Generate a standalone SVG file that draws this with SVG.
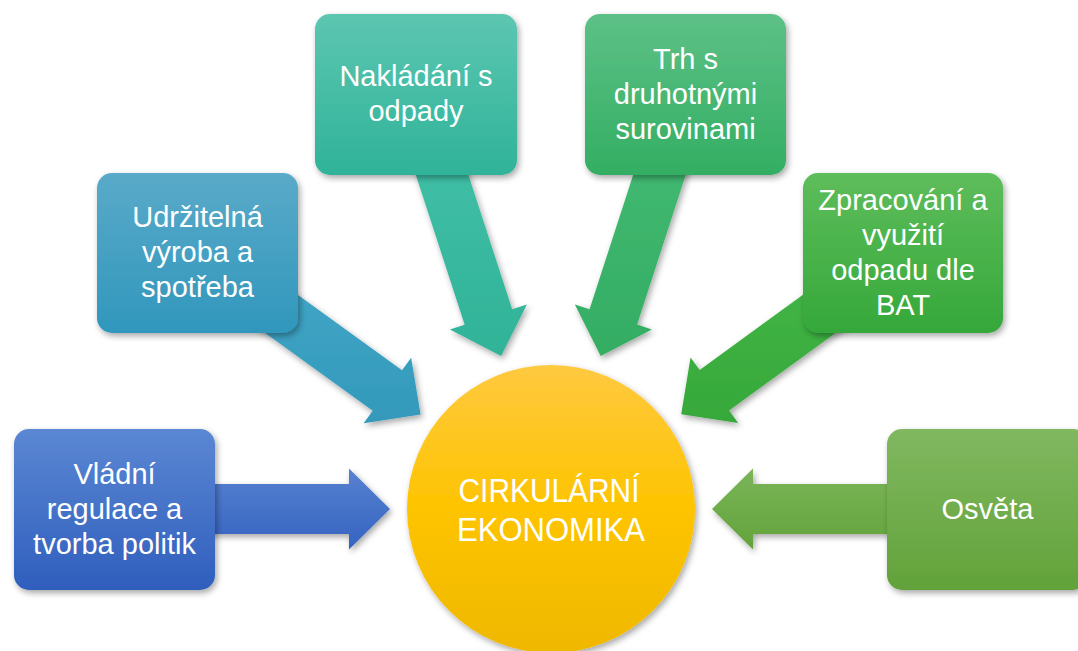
<svg xmlns="http://www.w3.org/2000/svg" width="1078" height="651" viewBox="0 0 1078 651">
<defs>
<filter id="sh" x="-20%" y="-20%" width="140%" height="140%">
<feDropShadow dx="2" dy="3" stdDeviation="3" flood-color="#000" flood-opacity="0.35"/>
</filter>
<linearGradient id="g1" x1="0" y1="0" x2="0" y2="1"><stop offset="0" stop-color="#5b87d3"/><stop offset="1" stop-color="#2f5ebd"/></linearGradient>
<linearGradient id="g2" x1="0" y1="0" x2="0" y2="1"><stop offset="0" stop-color="#5aaac9"/><stop offset="1" stop-color="#3097bc"/></linearGradient>
<linearGradient id="g3" x1="0" y1="0" x2="0" y2="1"><stop offset="0" stop-color="#5dc6b1"/><stop offset="1" stop-color="#2fb399"/></linearGradient>
<linearGradient id="g4" x1="0" y1="0" x2="0" y2="1"><stop offset="0" stop-color="#5dc187"/><stop offset="1" stop-color="#33ae62"/></linearGradient>
<linearGradient id="g5" x1="0" y1="0" x2="0" y2="1"><stop offset="0" stop-color="#5ebd5b"/><stop offset="1" stop-color="#35a83a"/></linearGradient>
<linearGradient id="g6" x1="0" y1="0" x2="0" y2="1"><stop offset="0" stop-color="#80b860"/><stop offset="1" stop-color="#62a23a"/></linearGradient>
<linearGradient id="a1" x1="0" y1="0" x2="0" y2="1"><stop offset="0" stop-color="#5781d1"/><stop offset="1" stop-color="#3463c0"/></linearGradient>
<linearGradient id="a2" x1="0" y1="0" x2="0" y2="1"><stop offset="0" stop-color="#45a9c9"/><stop offset="1" stop-color="#3399bb"/></linearGradient>
<linearGradient id="a3" x1="0" y1="0" x2="0" y2="1"><stop offset="0" stop-color="#46c3ab"/><stop offset="1" stop-color="#30b398"/></linearGradient>
<linearGradient id="a4" x1="0" y1="0" x2="0" y2="1"><stop offset="0" stop-color="#46bd76"/><stop offset="1" stop-color="#34ad63"/></linearGradient>
<linearGradient id="a5" x1="0" y1="0" x2="0" y2="1"><stop offset="0" stop-color="#46b94a"/><stop offset="1" stop-color="#36a83a"/></linearGradient>
<linearGradient id="a6" x1="0" y1="0" x2="0" y2="1"><stop offset="0" stop-color="#7ab558"/><stop offset="1" stop-color="#63a33b"/></linearGradient>
<linearGradient id="gc" x1="0" y1="0" x2="0" y2="1"><stop offset="0" stop-color="#ffc940"/><stop offset="0.5" stop-color="#fec400"/><stop offset="1" stop-color="#efb800"/></linearGradient>
<style>
.box{filter:url(#sh)}
.arr{filter:url(#sh)}
.t{font-family:"Liberation Sans",Arial,sans-serif;font-size:29px;fill:#fff;text-anchor:middle}
.tc{font-family:"Liberation Sans",Arial,sans-serif;font-size:34px;fill:#fff;text-anchor:middle}
</style>
</defs>
<g id="connectors">
<polygon class="arr" fill="url(#a1)" points="390,509 349,468.5 349,484 115,484 115,534 349,534 349,549.5"/>
<polygon class="arr" fill="url(#a2)" points="420.6,414.6 411.15,357.75 402.06,370.3 212.54,233.06 183.22,273.56 372.74,410.8 363.65,423.35"/>
<polygon class="arr" fill="url(#a3)" points="501.1,355.9 526.91,304.38 512.17,309.18 439.7,86.69 392.16,102.17 464.63,324.66 449.89,329.46"/>
<polygon class="arr" fill="url(#a4)" points="600.7,355.9 651.87,329.41 637.13,324.62 709.35,102.07 661.79,86.64 589.57,309.19 574.83,304.41"/>
<polygon class="arr" fill="url(#a5)" points="681.2,414.3 738.18,422.94 729.07,410.4 918.33,272.76 888.91,232.32 699.65,369.96 690.54,357.42"/>
<polygon class="arr" fill="url(#a6)" points="712,509 753,549.5 753,534 987,534 987,484 753,484 753,468.5"/>
</g>
<g id="node-vladni">
<rect class="box" x="14" y="429" width="201" height="161" rx="15" fill="url(#g1)"/>
<text class="t" x="114.5" y="483.5">Vládní</text>
<text class="t" x="114.5" y="518.5">regulace a</text>
<text class="t" x="114.5" y="553.5">tvorba politik</text>
</g>
<g id="node-udrzitelna">
<rect class="box" x="97" y="173" width="201" height="160" rx="15" fill="url(#g2)"/>
<text class="t" x="197.5" y="227">Udržitelná</text>
<text class="t" x="197.5" y="262">výroba a</text>
<text class="t" x="197.5" y="297">spotřeba</text>
</g>
<g id="node-nakladani">
<rect class="box" x="315" y="14" width="202" height="161" rx="15" fill="url(#g3)"/>
<text class="t" x="416" y="86">Nakládání s</text>
<text class="t" x="416" y="121">odpady</text>
</g>
<g id="node-trh">
<rect class="box" x="585" y="14" width="201" height="161" rx="15" fill="url(#g4)"/>
<text class="t" x="685.5" y="68.5">Trh s</text>
<text class="t" x="685.5" y="103.5">druhotnými</text>
<text class="t" x="685.5" y="138.5">surovinami</text>
</g>
<g id="node-zpracovani">
<rect class="box" x="803" y="173" width="200" height="160" rx="15" fill="url(#g5)"/>
<text class="t" x="903" y="209.5">Zpracování a</text>
<text class="t" x="903" y="244.5">využití</text>
<text class="t" x="903" y="279.5">odpadu dle</text>
<text class="t" x="903" y="314.5">BAT</text>
</g>
<g id="node-osveta">
<rect class="box" x="887" y="429" width="201" height="161" rx="15" fill="url(#g6)"/>
<text class="t" x="987.5" y="518.5">Osvěta</text>
</g>
<g id="node-center">
<circle class="box" cx="551" cy="509" r="144" fill="url(#gc)"/>
<text class="tc" x="549" y="502" textLength="181" lengthAdjust="spacingAndGlyphs">CIRKULÁRNÍ</text>
<text class="tc" x="551" y="541" textLength="188" lengthAdjust="spacingAndGlyphs">EKONOMIKA</text>
</g>
</svg>
